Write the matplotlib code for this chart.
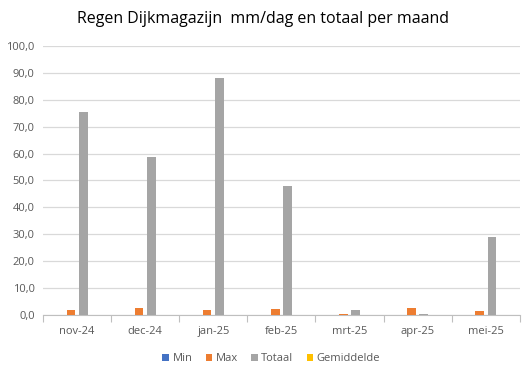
import numpy as np
import matplotlib.pyplot as plt
from matplotlib.ticker import FuncFormatter, FixedLocator

plt.rcParams['font.family'] = ['Open Sans', 'DejaVu Sans']

# Data
months = ['nov-24', 'dec-24', 'jan-25', 'feb-25', 'mrt-25', 'apr-25', 'mei-25']
min_vals = [0.0, 0.0, 0.0, 0.0, 0.0, 0.0, 0.0]
max_vals = [1.8, 2.5, 1.8, 2.1, 0.5, 2.5, 1.4]
totaal_vals = [75.5, 58.8, 88.1, 48.0, 1.8, 0.5, 29.0]
gem_vals = [0.0, 0.0, 0.0, 0.0, 0.0, 0.0, 0.0]

series = [('Min', min_vals, '#4472C4'),
          ('Max', max_vals, '#ED7D31'),
          ('Totaal', totaal_vals, '#A5A5A5'),
          ('Gemiddelde', gem_vals, '#FFC000')]

fig = plt.figure(figsize=(5.32, 3.74), dpi=100)
ax = fig.add_axes([0.081, 0.158, 0.896, 0.719])

x = np.arange(len(months))
step = 0.182
width = 0.128
for k, (name, vals, color) in enumerate(series):
    ax.bar(x + (k - 1.5) * step, vals, width, color=color, label=name, zorder=3)

ax.set_xlim(-0.5, len(months) - 0.5)
ax.set_ylim(0, 100)
ax.set_yticks(np.arange(0, 101, 10))
ax.yaxis.set_major_formatter(FuncFormatter(lambda v, p: f'{v:.1f}'.replace('.', ',')))
ax.grid(axis='y', color='#D9D9D9', linewidth=0.9, zorder=0)

ax.set_xticks(x)
ax.set_xticklabels(months)
ax.xaxis.set_minor_locator(FixedLocator(np.arange(-0.5, len(months), 1)))
ax.tick_params(axis='x', which='major', length=0, pad=8)
ax.tick_params(axis='x', which='minor', length=5, color='#BFBFBF', width=0.8)
ax.tick_params(axis='y', length=0, pad=6)
ax.tick_params(labelsize=8, labelcolor='#595959')

for s in ['top', 'right', 'left']:
    ax.spines[s].set_visible(False)
ax.spines['bottom'].set_color('#BFBFBF')
ax.spines['bottom'].set_linewidth(0.8)

fig.suptitle('Regen Dijkmagazijn  mm/dag en totaal per maand', x=0.494, y=0.97,
             fontsize=11.5, color='#000000')

fig.legend(loc='lower center', bbox_to_anchor=(0.51, 0.0), ncol=4, frameon=False,
           fontsize=8, labelcolor='#595959', handlelength=0.6, handleheight=0.6,
           handletextpad=0.3, columnspacing=1.2)

fig.savefig('out.png', dpi=100)
